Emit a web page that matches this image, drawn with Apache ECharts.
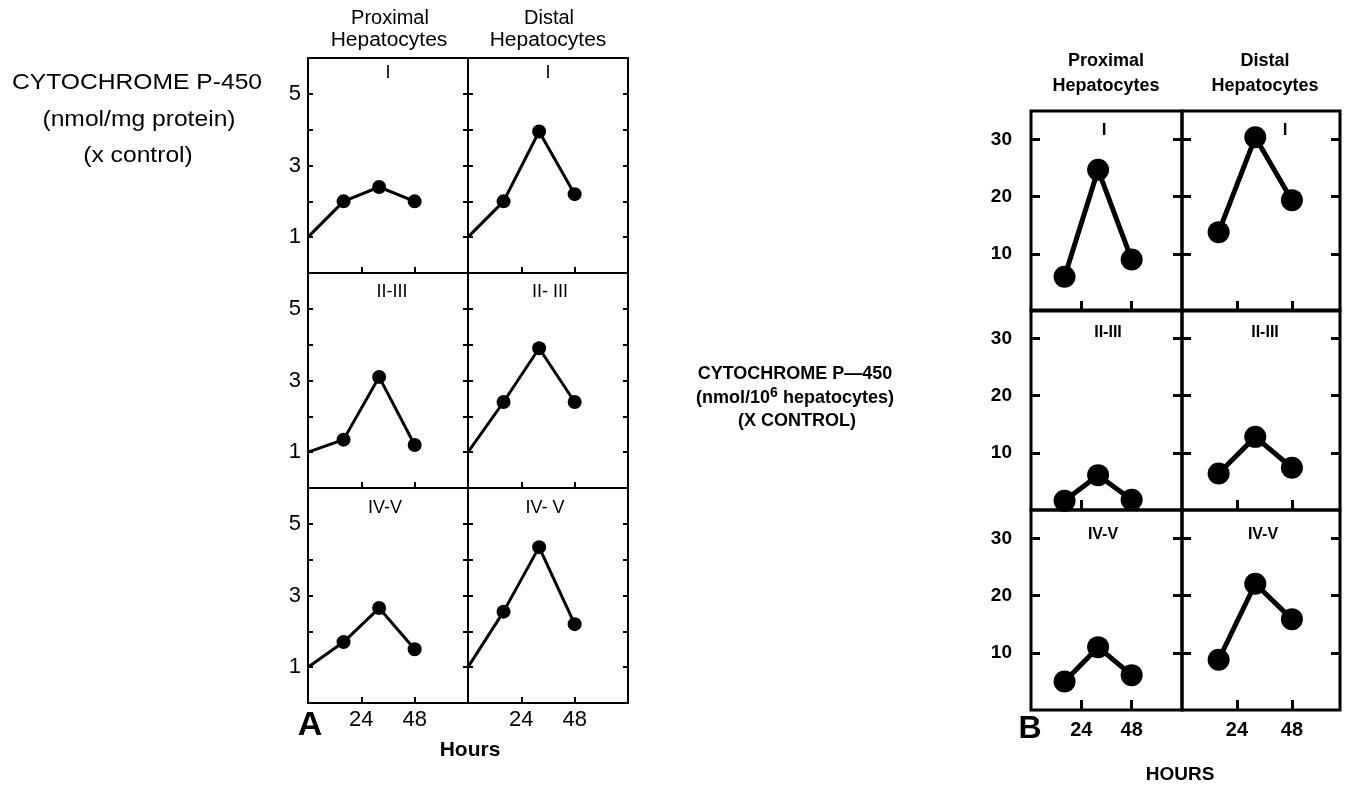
<!DOCTYPE html>
<html>
<head>
<meta charset="utf-8">
<script src="https://cdn.jsdelivr.net/npm/echarts@6/dist/echarts.min.js"></script>
<style>
  html, body { margin: 0; padding: 0; background: #fff; }
  #chart { width: 1351px; height: 787px; }
</style>
</head>
<body>
<div id="chart"></div>
<script>
// hours at which the points were measured
const hours = [16, 32, 48];
const hourTicks = [24, 48];
const controlLevel = 1; // panel A lines start from control (x1) at 0 h

// A: cytochrome P-450, nmol/mg protein (x control)
const aProxI = [2.0, 2.4, 2.0];
const aDistI = [2.0, 3.95, 2.2];
const aProxII = [1.35, 3.1, 1.2];
const aDistII = [2.4, 3.9, 2.4];
const aProxIV = [1.7, 2.65, 1.5];
const aDistIV = [2.55, 4.35, 2.2];

// B: cytochrome P-450, nmol/10^6 hepatocytes (x control)
const bProxI = [6, 24.7, 9];
const bDistI = [13.8, 30.4, 19.4];
const bProxII = [1.6, 6.1, 1.8];
const bDistII = [6.4, 12.8, 7.4];
const bProxIV = [5, 11, 6.1];
const bDistIV = [8.8, 22.1, 15.9];

const aYLabels = [1, 3, 5];
const aYTicks = [1, 2, 3, 4, 5];
const bYLabels = [10, 20, 30];

const FONT = '"Liberation Sans", Arial, sans-serif';

const grids = [], xAxes = [], yAxes = [], series = [];

function addPanel(p) {
  const gi = grids.length;
  grids.push({
    left: p.left, top: p.top, width: p.width, height: p.height,
    show: true, borderColor: '#000', borderWidth: p.border, backgroundColor: 'transparent'
  });
  xAxes.push({
    gridIndex: gi, type: 'value', min: 0, max: p.xMax,
    axisLine: { show: false }, splitLine: { show: false },
    axisTick: { inside: true, length: p.xTickLen, customValues: hourTicks, lineStyle: { color: '#000', width: p.tickW } },
    axisLabel: { show: p.showX, customValues: hourTicks, margin: p.xMargin, color: '#000',
      fontSize: p.xFont, fontWeight: p.weight, fontFamily: FONT }
  });
  const yi = yAxes.length;
  const yBase = {
    gridIndex: gi, type: 'value', min: 0, max: p.yMax,
    axisLine: { show: false }, splitLine: { show: false },
    axisTick: { inside: true, length: p.yTickLen, customValues: p.yTicks, lineStyle: { color: '#000', width: p.tickW } }
  };
  yAxes.push(Object.assign({}, yBase, {
    position: 'left',
    axisLabel: { show: p.showY, customValues: p.yLabels, margin: p.yMargin, color: '#000',
      fontSize: p.yFont, fontWeight: p.weight, fontFamily: FONT }
  }));
  yAxes.push(Object.assign({}, yBase, { position: 'right', axisLabel: { show: false } }));

  let data = hours.map((h, i) => [h, p.values[i]]);
  if (p.fromControl) data = [{ value: [0, controlLevel], symbol: 'none' }].concat(data);
  series.push({
    type: 'line', xAxisIndex: gi, yAxisIndex: yi, data: data,
    symbol: 'circle', symbolSize: p.dot, showAllSymbol: true, clip: false,
    lineStyle: { color: '#000', width: p.lineW }, itemStyle: { color: '#000' },
    emphasis: { disabled: true }, z: 3
  });
}

// panel A
const aCols = [308, 468], aRows = [58, 273, 488];
const aSets = [[aProxI, aDistI], [aProxII, aDistII], [aProxIV, aDistIV]];
aRows.forEach((top, r) => aCols.forEach((left, c) => addPanel({
  left, top, width: 160, height: 215, border: 2, xMax: 72, yMax: 6,
  xTickLen: 6, yTickLen: 5, tickW: 2, yTicks: aYTicks, yLabels: aYLabels,
  showX: r === 2, showY: c === 0, xMargin: 6, yMargin: 7, xFont: 22, yFont: 22, weight: 'normal',
  values: aSets[r][c], fromControl: true, dot: 14, lineW: 3
})));

// panel B
const bCols = [[1031, 151, 72], [1182, 158, 69]], bRows = [111, 310, 510];
const bSets = [[bProxI, bDistI], [bProxII, bDistII], [bProxIV, bDistIV]];
bRows.forEach((top, r) => bCols.forEach((col, c) => addPanel({
  left: col[0], top, width: col[1], height: 200, border: 3, xMax: col[2], yMax: 35,
  xTickLen: 10, yTickLen: 9, tickW: 3, yTicks: bYLabels, yLabels: bYLabels,
  showX: r === 2, showY: c === 0, xMargin: 10, yMargin: 19, xFont: 20, yFont: 19, weight: 'bold',
  values: bSets[r][c], fromControl: false, dot: 22, lineW: 5
})));

function txt(text, x, y, size, weight, extra) {
  return Object.assign({
    type: 'text', x: x, y: y, z: 10,
    style: { text: text, fill: '#000', fontSize: size, fontWeight: weight, fontFamily: FONT,
      align: 'center', verticalAlign: 'middle' }
  }, extra || {});
}

const graphics = [
  // A titles
  txt('CYTOCHROME P-450', 137, 83, 22, 'normal', { scaleX: 1.12 }),
  txt('(nmol/mg protein)', 139, 120, 22, 'normal', { scaleX: 1.12 }),
  txt('(x control)', 138, 156, 22, 'normal', { scaleX: 1.12 }),
  txt('Proximal', 390, 18, 20, 'normal'),
  txt('Hepatocytes', 389, 40, 20, 'normal', { scaleX: 1.05 }),
  txt('Distal', 549, 18, 20, 'normal'),
  txt('Hepatocytes', 548, 40, 20, 'normal', { scaleX: 1.05 }),
  txt('I', 388, 73, 18, 'normal'),
  txt('I', 548, 73, 18, 'normal'),
  txt('II-III', 392, 292, 18, 'normal'),
  txt('II- III', 550, 292, 18, 'normal'),
  txt('IV-V', 385, 508, 18, 'normal'),
  txt('IV- V', 545, 508, 18, 'normal'),
  txt('A', 310, 726, 34, 'bold'),
  txt('Hours', 470, 750, 21, 'bold'),
  // B titles
  txt('CYTOCHROME P\u2014450', 795, 374, 18, 'bold'),
  {
    type: 'text', x: 795, y: 398, z: 10,
    style: {
      text: '{a|(nmol/10}{s|6}{a| hepatocytes)}', fill: '#000', align: 'center', verticalAlign: 'middle',
      rich: {
        a: { fontSize: 18, fontWeight: 'bold', fontFamily: FONT, lineHeight: 24, fill: '#000' },
        s: { fontSize: 14, fontWeight: 'bold', fontFamily: FONT, lineHeight: 14, verticalAlign: 'top', fill: '#000' }
      }
    }
  },
  txt('(X CONTROL)', 797, 421, 18, 'bold'),
  txt('Proximal', 1106, 61, 18, 'bold'),
  txt('Hepatocytes', 1106, 86, 18, 'bold'),
  txt('Distal', 1265, 61, 18, 'bold'),
  txt('Hepatocytes', 1265, 86, 18, 'bold'),
  txt('I', 1104, 130, 17, 'bold'),
  txt('I', 1285, 130, 17, 'bold'),
  txt('II-III', 1108, 333, 16, 'bold'),
  txt('II-III', 1265, 333, 16, 'bold'),
  txt('IV-V', 1103, 535, 16, 'bold'),
  txt('IV-V', 1263, 535, 16, 'bold'),
  txt('B', 1030, 729, 32, 'bold'),
  txt('HOURS', 1180, 775, 19, 'bold')
];

const chart = echarts.init(document.getElementById('chart'), null, { renderer: 'canvas' });
chart.setOption({
  animation: false,
  backgroundColor: '#fff',
  grid: grids,
  xAxis: xAxes,
  yAxis: yAxes,
  series: series,
  graphic: graphics
});
</script>
</body>
</html>
